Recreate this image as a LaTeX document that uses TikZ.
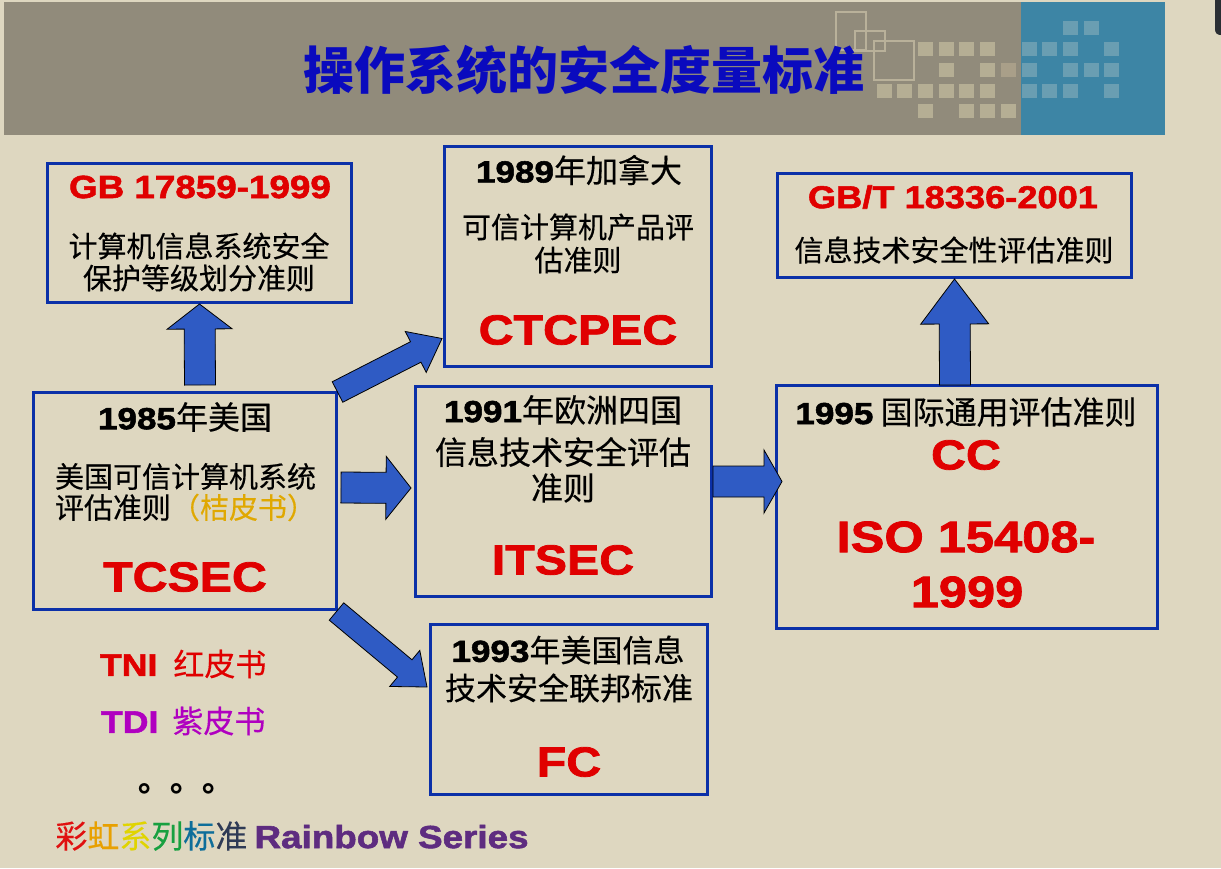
\documentclass[tikz,border=0pt]{standalone}
\usepackage{fontspec}
\setmainfont{Noto Sans CJK SC}[UprightFeatures={FakeBold=0.35}]
\newfontfamily\latf{Liberation Sans}[FakeStretch=1.15, BoldFeatures={FakeBold=1.8}]
\usetikzlibrary{calc}

\definecolor{bg}{HTML}{DED7C0}
\definecolor{hdgray}{HTML}{918B7B}
\definecolor{hdblue}{HTML}{3D85A5}
\definecolor{sqgray}{HTML}{B5AE94}
\definecolor{sqodd}{HTML}{A99F89}
\definecolor{sqblue}{HTML}{6A9EB2}
\definecolor{frameline}{HTML}{B9B19A}
\definecolor{cornerdark}{HTML}{2A2E33}
\definecolor{titleblue}{HTML}{0A0ABE}
\definecolor{boxblue}{HTML}{0B30A8}
\definecolor{arrowblue}{HTML}{2F5BC4}
\definecolor{stdred}{HTML}{E00000}
\definecolor{orangebook}{HTML}{E0A800}
\definecolor{purplebook}{HTML}{B000C0}
\definecolor{rbred}{HTML}{E01010}
\definecolor{rborange}{HTML}{E8A000}
\definecolor{rbyellow}{HTML}{E0D400}
\definecolor{rbgreen}{HTML}{18A040}
\definecolor{rbteal}{HTML}{0E6E9A}
\definecolor{rbslate}{HTML}{2E3A55}
\definecolor{rbpurple}{HTML}{5E2C80}

\newcommand{\fsz}[1]{\fontsize{#1}{#1}\selectfont}
\newcommand{\latb}[2]{{\latf\bfseries\fsz{#1}#2}}

% block arrow: start, tip, shaft half width, head half width, head length
\newcommand{\blockarrow}[5]{%
  \coordinate (ba-b) at ($(#2)!#5!(#1)$);
  \draw[barrow] ($(#1)!#3!90:(#2)$) -- ($(ba-b)!#3!90:(#2)$)
    -- ($(ba-b)!#4!90:(#2)$) -- (#2) -- ($(ba-b)!#4!-90:(#2)$)
    -- ($(ba-b)!#3!-90:(#2)$) -- ($(#1)!#3!-90:(#2)$) -- cycle;}

\tikzset{
  stdbox/.style={draw=boxblue, line width=3pt, inner sep=0pt},
  barrow/.style={fill=arrowblue, draw=black, line width=0.8pt, line join=miter},
  txt/.style={inner sep=0pt, outer sep=0pt},
}

\begin{document}
\begin{tikzpicture}[x=1pt, y=-1pt]
\useasboundingbox (0,0) rectangle (1221,868);
\fill[bg] (0,0) rectangle (1221,868);

% header band
\fill[hdgray] (4,2) rectangle (1021,135);
\fill[hdblue] (1021,2) rectangle (1165,135);
\fill[cornerdark] (1215,0) -- (1215,29) .. controls (1215,33) and (1217,35) .. (1221,35) -- (1221,0) -- cycle;
\foreach \px/\py in {918/42,939/42,959/42,980/42,939/63,980/63,877/84,897/84,918/84,939/84,959/84,980/84,918/104,959/104,980/104,1001/104}
  \fill[sqgray] (\px,\py) rectangle ++(15,14);
\fill[sqodd] (1001,63) rectangle ++(15,14);
\foreach \px/\py in {1063/21,1084/21,1022/42,1042/42,1063/42,1104/42,1022/63,1063/63,1084/63,1104/63,1022/84,1042/84,1063/84,1104/84}
  \fill[sqblue] (\px,\py) rectangle ++(15,14);
\draw[frameline, line width=1.5pt] (836,12) rectangle (866,50);
\draw[frameline, line width=1.5pt] (855,31) rectangle (885,51);
\draw[frameline, line width=1.5pt] (874,41) rectangle (914,80);
\node[txt, text=titleblue, font=\fsz{51}\bfseries] (title) at (584,70) {操作系统的安全度量标准};

% standard boxes
\node[stdbox, minimum width=304pt, minimum height=139pt] (gb)   at (199.5,233) {};
\node[stdbox, minimum width=267pt, minimum height=220pt] (ca89) at (578,256.5) {};
\node[stdbox, minimum width=354pt, minimum height=104pt] (gbt)  at (954.5,225.5) {};
\node[stdbox, minimum width=303pt, minimum height=217pt] (us85) at (185,501) {};
\node[stdbox, minimum width=296pt, minimum height=210pt] (eu91) at (563.5,491.5) {};
\node[stdbox, minimum width=381pt, minimum height=243pt] (cc95) at (967,507) {};
\node[stdbox, minimum width=277pt, minimum height=170pt] (us93) at (569,709.5) {};

% GB 17859-1999
\node[txt, text=stdred] (gbcode) at (200,187) {\latb{32}{GB 17859-1999}};
\node[txt, font=\fsz{29}] (gbl1) at (199,246) {计算机信息系统安全};
\node[txt, font=\fsz{29}] (gbl2) at (199,278) {保护等级划分准则};

% Canada 1989
\node[txt, font=\fsz{32}] (cal1) at (579,170) {\latb{30.5}{1989}年加拿大};
\node[txt, font=\fsz{29}] (cal2) at (578,227) {可信计算机产品评};
\node[txt, font=\fsz{29}] (cal3) at (578,260) {估准则};
\node[txt, text=stdred] (cacode) at (578,330) {\latb{42}{CTCPEC}};

% GB/T 18336-2001
\node[txt, text=stdred] (gbtcode) at (953,197) {\latb{31.5}{GB/T 18336-2001}};
\node[txt, font=\fsz{29}] (gbtl1) at (954,250) {信息技术安全性评估准则};

% USA 1985
\node[txt, font=\fsz{32}] (usl1) at (185,417) {\latb{30.5}{1985}年美国};
\node[txt, font=\fsz{29}, anchor=west] (usl2) at (55,476.5) {美国可信计算机系统};
\node[txt, font=\fsz{29}, anchor=west] (usl3) at (55,507.5) {评估准则\textcolor{orangebook}{（桔皮书）}};
\node[txt, text=stdred] (uscode) at (185,577) {\latb{42}{TCSEC}};

% Europe 1991
\node[txt, font=\fsz{32}] (eul1) at (563,410) {\latb{30.5}{1991}年欧洲四国};
\node[txt, font=\fsz{32}] (eul2) at (563,452) {信息技术安全评估};
\node[txt, font=\fsz{32}] (eul3) at (563,488) {准则};
\node[txt, text=stdred] (eucode) at (563,560) {\latb{42}{ITSEC}};

% Common Criteria 1995
\node[txt, font=\fsz{32}] (ccl1) at (966,412) {\latb{30.5}{1995} 国际通用评估准则};
\node[txt, text=stdred] (cccode) at (966,455) {\latb{42}{CC}};
\node[txt, text=stdred] (cciso1) at (966,537) {\latb{44}{ISO 15408-}};
\node[txt, text=stdred] (cciso2) at (967,592) {\latb{44}{1999}};

% USA 1993
\node[txt, font=\fsz{31}] (fcl1) at (568,650) {\latb{30.5}{1993}年美国信息};
\node[txt, font=\fsz{31}] (fcl2) at (569,688) {技术安全联邦标准};
\node[txt, text=stdred] (fccode) at (569,762) {\latb{42}{FC}};

% rainbow series notes
\node[txt, font=\fsz{31}, text=stdred, anchor=west] (tni) at (100,664) {\latb{31}{TNI}\hspace{16pt}红皮书};
\node[txt, font=\fsz{31}, text=purplebook, anchor=west] (tdi) at (101,721) {\latb{31}{TDI}\hspace{14pt}紫皮书};
\node[txt, font=\fsz{32}\bfseries, anchor=base west] (dots) at (138,791) {。。。};
\node[txt, font=\fsz{32}] (rainbow) at (292,836) {\textcolor{rbred}{彩}\textcolor{rborange}{虹}\textcolor{rbyellow}{系}\textcolor{rbgreen}{列}\textcolor{rbteal}{标}\textcolor{rbslate}{准} \textcolor{rbpurple}{\latb{32}{Rainbow Series}}};

% connectors
\coordinate (a1s) at (200,385);
\coordinate (a2s) at (955,385);
\coordinate (a3s) at (341,487.5);
\coordinate (a3t) at (411,488);
\coordinate (a4s) at (713,481.5);
\coordinate (a4t) at (782,481.5);
\coordinate (a5s) at (337.5,392);
\coordinate (a5t) at (442,338.5);
\coordinate (a6s) at (336.5,611.5);
\coordinate (a6t) at (427,687);
\blockarrow{a1s}{gb.south}{15.5pt}{32.5pt}{25pt}
\blockarrow{a2s}{gbt.south}{15.5pt}{34pt}{45pt}
\blockarrow{a3s}{a3t}{15.5pt}{31.5pt}{25pt}
\blockarrow{a4s}{a4t}{15.5pt}{31.5pt}{18pt}
\blockarrow{a5s}{a5t}{11.5pt}{23pt}{29.5pt}
\blockarrow{a6s}{a6t}{11.3pt}{23.5pt}{29pt}
\end{tikzpicture}
\end{document}
